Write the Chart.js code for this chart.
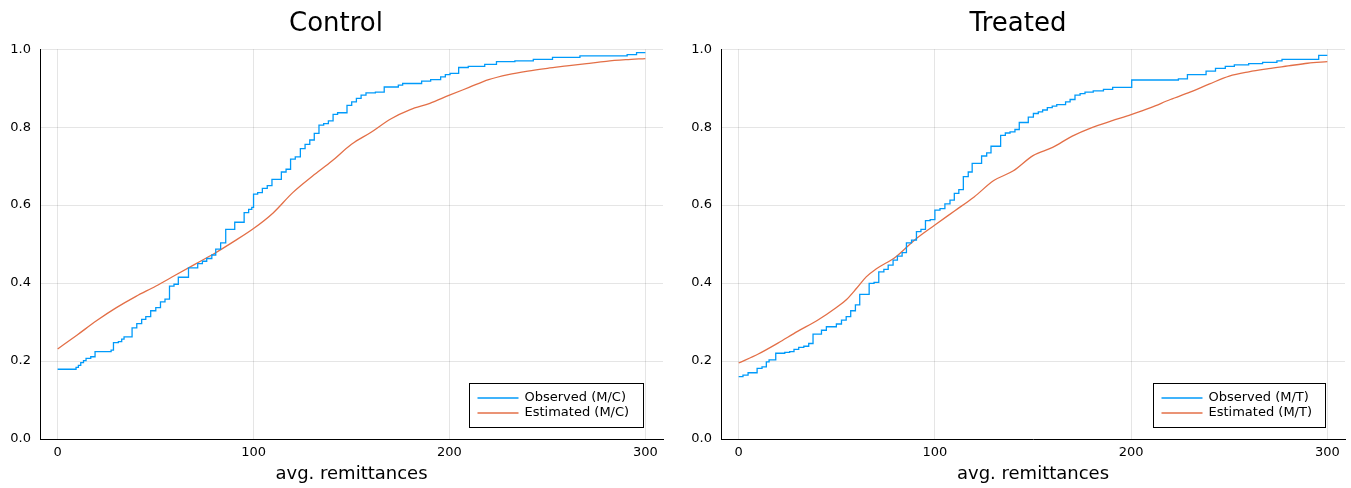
<!DOCTYPE html>
<html>
<head>
<meta charset="utf-8">
<title>Observed vs estimated remittances</title>
<script src="https://cdn.jsdelivr.net/npm/chart.js@4.4.0/dist/chart.umd.min.js"></script>
<style>
  html, body { margin: 0; padding: 0; background: #ffffff; }
  body { width: 1351px; height: 488px; position: relative; overflow: hidden; }
  canvas { position: absolute; top: 0; }
  #chart1 { left: 0; }
  #chart2 { left: 681px; }
</style>
</head>
<body>
<canvas id="chart1" width="672" height="488"></canvas>
<canvas id="chart2" width="670" height="488"></canvas>
<script>
// tick labels
const xTicks = [0, 100, 200, 300];
const yTicks = [0, 0.2, 0.4, 0.6, 0.8, 1.0];

// Control: observed ECDF (step starts at x, new level y)
const ctrlObsX = [0, 9.4, 10.6, 11.8, 13.2, 14.5, 16.9, 19.1, 27.3, 28.5, 31.0, 32.7, 33.9, 38.0, 40.4, 42.9, 45.0, 47.5,
    50.1, 52.5, 54.8, 57.1, 59.4, 61.6, 66.8, 71.5, 73.9, 76.1, 78.7, 80.7, 83.2, 85.8, 90.4, 95.2, 97.5, 99.1, 100.0, 102.1,
    104.5, 107.0, 109.4, 114.2, 116.6, 118.9, 121.3, 123.9, 126.3, 128.7, 131.0, 133.4, 135.8, 138.2, 140.6, 142.9, 147.7, 150.1,
    152.5, 154.9, 157.4, 162.2, 166.7, 173.9, 176.1, 185.8, 190.4, 195.5, 197.9, 200.3, 204.7, 209.6, 218.0, 224.0, 233.4, 242.8,
    252.6, 266.6, 290.7, 295.5, 300];
const ctrlObsY = [0.179, 0.184, 0.189, 0.196, 0.201, 0.207, 0.211, 0.224, 0.228, 0.247, 0.250, 0.256, 0.262, 0.285, 0.296, 0.307, 0.314, 0.329,
    0.337, 0.352, 0.359, 0.392, 0.397, 0.415, 0.439, 0.450, 0.456, 0.463, 0.472, 0.487, 0.503, 0.538, 0.556, 0.581, 0.589, 0.594, 0.628, 0.632,
    0.643, 0.650, 0.666, 0.685, 0.692, 0.718, 0.724, 0.745, 0.756, 0.767, 0.784, 0.805, 0.809, 0.816, 0.833, 0.837, 0.856, 0.865,
    0.874, 0.882, 0.888, 0.890, 0.903, 0.908, 0.912, 0.918, 0.922, 0.929, 0.935, 0.938, 0.953, 0.956, 0.961, 0.968, 0.970, 0.974,
    0.979, 0.983, 0.986, 0.991, 0.991];

// Control: estimated CDF
const ctrlEstX = [0, 10, 20, 30, 40, 50, 60, 70, 80, 90, 100, 110, 120, 130, 140, 150, 160, 170, 180, 190, 200,
    210, 220, 230, 240, 250, 260, 270, 280, 290, 300];
const ctrlEstY = [0.231, 0.267, 0.304, 0.337, 0.366, 0.392, 0.420, 0.448, 0.476, 0.507, 0.540, 0.580, 0.632, 0.674, 0.713, 0.756, 0.787, 0.821, 0.845, 0.861, 0.882,
    0.902, 0.922, 0.935, 0.944, 0.951, 0.957, 0.963, 0.969, 0.973, 0.976];

// Treated: observed ECDF
const trtObsX = [0, 2.2, 4.8, 9.4, 11.9, 14.1, 15.5, 18.9, 23.5, 26.0, 28.2, 30.6, 33.2, 35.7, 37.9, 42.2, 44.7, 49.8, 52.4, 54.8,
    57.1, 59.5, 61.7, 66.5, 69.0, 71.4, 74.0, 76.2, 78.7, 80.9, 83.3, 85.5, 88.1, 90.6, 92.9, 95.2, 97.6, 100.0, 102.6, 105.1,
    107.7, 109.9, 112.2, 114.5, 117.0, 119.0, 123.8, 126.4, 128.6, 133.5, 135.9, 138.3, 140.8, 143.0, 147.6, 150.2, 152.7, 154.9, 157.3, 159.8,
    162.1, 166.6, 168.9, 171.4, 174.0, 176.5, 180.7, 185.9, 190.6, 200.3, 224.1, 228.7, 238.2, 243.0, 248.0, 252.6, 259.9, 267.0, 274.3, 276.9,
    295.6, 300];
const trtObsY = [0.160, 0.164, 0.170, 0.181, 0.185, 0.198, 0.203, 0.220, 0.222, 0.224, 0.230, 0.235, 0.238, 0.245, 0.269, 0.279, 0.288, 0.295, 0.305, 0.314,
    0.329, 0.344, 0.371, 0.399, 0.402, 0.429, 0.435, 0.446, 0.459, 0.469, 0.478, 0.503, 0.510, 0.532, 0.538, 0.560, 0.563, 0.587, 0.591, 0.603,
    0.613, 0.630, 0.640, 0.673, 0.685, 0.707, 0.726, 0.734, 0.751, 0.779, 0.785, 0.788, 0.794, 0.812, 0.826, 0.835, 0.839, 0.844, 0.850, 0.854,
    0.858, 0.865, 0.871, 0.882, 0.886, 0.890, 0.893, 0.897, 0.902, 0.921, 0.924, 0.935, 0.944, 0.951, 0.956, 0.960, 0.963, 0.966, 0.970, 0.974,
    0.984, 0.984];

// Treated: estimated CDF
const trtEstX = [0, 10, 20, 30, 40, 50, 55, 60, 65, 70, 80, 90, 100, 110, 120, 130, 140, 150, 160, 170, 180, 190, 200,
    210, 220, 230, 240, 250, 260, 270, 280, 290, 300];
const trtEstY = [0.195, 0.218, 0.246, 0.276, 0.304, 0.338, 0.358, 0.386, 0.416, 0.436, 0.467, 0.512, 0.549, 0.585, 0.621, 0.663, 0.688, 0.727, 0.748, 0.777, 0.799, 0.816, 0.832,
    0.850, 0.871, 0.890, 0.911, 0.931, 0.942, 0.950, 0.957, 0.964, 0.968];

const blue = 'rgb(0, 154, 250)';
const orange = 'rgb(227, 111, 71)';
const gridColor = 'rgba(0, 0, 0, 0.1)';

Chart.defaults.font.family = '"DejaVu Sans", sans-serif';
Chart.defaults.color = '#000000';

const toPoints = (xs, ys) => xs.map((x, i) => ({ x: x, y: ys[i] }));

// legend box in the lower right corner of the plot area
const boxLegend = {
    id: 'boxLegend',
    afterDatasetsDraw(chart) {
        const ctx = chart.ctx;
        const area = chart.chartArea;
        const sets = chart.data.datasets;
        ctx.save();
        ctx.font = '13px "DejaVu Sans"';
        let textW = 0;
        sets.forEach(ds => { textW = Math.max(textW, ctx.measureText(ds.label).width); });
        const w = Math.round(55 + textW + 14);
        const h = 44;
        const x = Math.round(area.right - 20 - w) + 0.5;
        const y = Math.round(area.bottom - 12 - h) + 0.5;
        ctx.fillStyle = '#ffffff';
        ctx.fillRect(x, y, w, h);
        ctx.strokeStyle = '#000000';
        ctx.lineWidth = 1;
        ctx.strokeRect(x, y, w, h);
        sets.forEach((ds, i) => {
            const ly = y + 14.5 + i * 15;
            ctx.strokeStyle = ds.borderColor;
            ctx.lineWidth = 1.3;
            ctx.beginPath();
            ctx.moveTo(x + 8, ly);
            ctx.lineTo(x + 49, ly);
            ctx.stroke();
            ctx.fillStyle = '#000000';
            ctx.textBaseline = 'middle';
            ctx.fillText(ds.label, x + 55, ly);
        });
        ctx.restore();
    }
};

function makeChart(id, title, obsLabel, estLabel, obsX, obsY, estX, estY, padLeft, padRight) {
    return new Chart(document.getElementById(id), {
        type: 'line',
        data: {
            datasets: [
                {
                    label: obsLabel,
                    data: toPoints(obsX, obsY),
                    borderColor: blue,
                    borderWidth: 1.3,
                    stepped: true,
                    pointRadius: 0,
                    fill: false
                },
                {
                    label: estLabel,
                    data: toPoints(estX, estY),
                    borderColor: orange,
                    borderWidth: 1.3,
                    cubicInterpolationMode: 'monotone',
                    pointRadius: 0,
                    fill: false
                }
            ]
        },
        options: {
            responsive: false,
            animation: false,
            devicePixelRatio: 1,
            layout: { padding: { left: padLeft, right: padRight, top: 0, bottom: 3 } },
            plugins: {
                legend: { display: false },
                tooltip: { enabled: false },
                title: {
                    display: true,
                    text: title,
                    color: '#000000',
                    font: { size: 26, weight: 'normal' },
                    padding: { top: 9, bottom: 9 }
                }
            },
            scales: {
                x: {
                    type: 'linear',
                    min: -9,
                    max: 309,
                    afterBuildTicks: s => { s.ticks = xTicks.map(v => ({ value: v })); },
                    afterFit: s => { s.height = 46; },
                    grid: { color: gridColor, drawTicks: false },
                    border: { color: '#000000', width: 1 },
                    ticks: { padding: 6, font: { size: 13 }, color: '#000000' },
                    title: { display: true, text: 'avg. remittances', font: { size: 18 }, color: '#000000', padding: 0 }
                },
                y: {
                    type: 'linear',
                    min: 0,
                    max: 1,
                    afterBuildTicks: s => { s.ticks = yTicks.map(v => ({ value: v })); },
                    afterFit: s => { s.width = 40 - padLeft; },
                    grid: { color: gridColor, drawTicks: false },
                    border: { color: '#000000', width: 1 },
                    ticks: { padding: 9, font: { size: 13 }, color: '#000000', callback: v => v.toFixed(1) }
                }
            }
        },
        plugins: [boxLegend]
    });
}

const chartControl = makeChart('chart1', 'Control', 'Observed (M/C)', 'Estimated (M/C)',
    ctrlObsX, ctrlObsY, ctrlEstX, ctrlEstY, 9, 9);
const chartTreated = makeChart('chart2', 'Treated', 'Observed (M/T)', 'Estimated (M/T)',
    trtObsX, trtObsY, trtEstX, trtEstY, 10, 6);
</script>
</body>
</html>
